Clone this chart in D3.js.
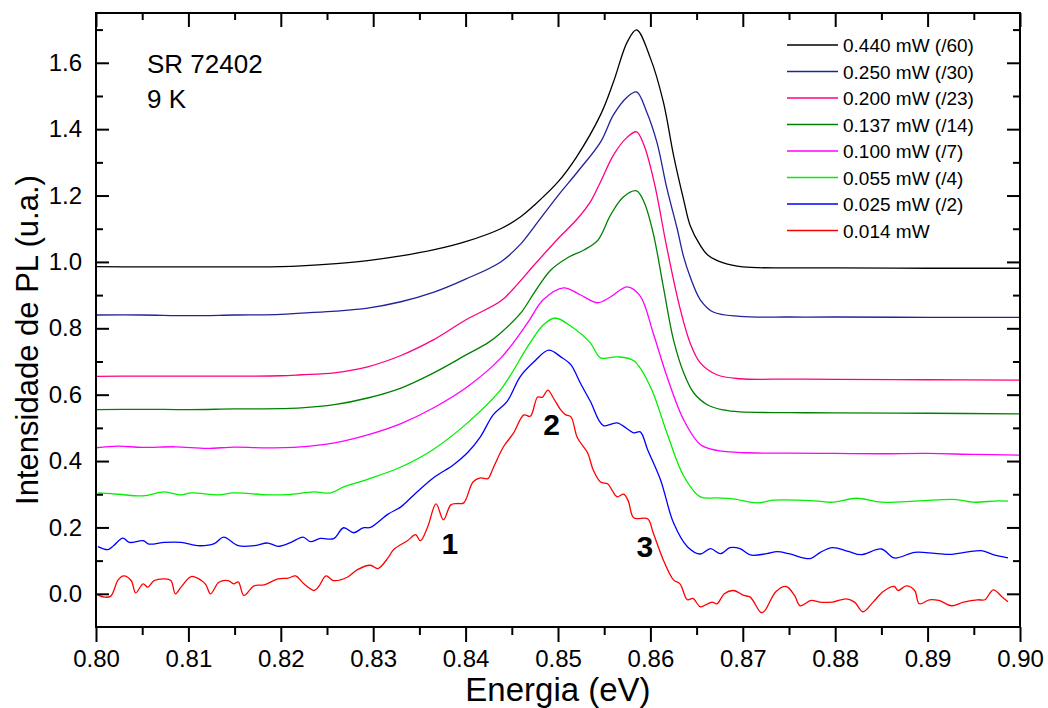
<!DOCTYPE html>
<html>
<head>
<meta charset="utf-8">
<script src="https://cdn.jsdelivr.net/npm/d3@7"></script>
<style>
  html, body { margin: 0; padding: 0; background: #fff; }
  svg { display: block; font-family: "Liberation Sans", Arial, sans-serif; }
</style>
</head>
<body>
<svg id="chart" width="1048" height="708"></svg>
<script>
// ---------- DATA ----------
const xTicks = [0.80, 0.81, 0.82, 0.83, 0.84, 0.85, 0.86, 0.87, 0.88, 0.89, 0.90];
const yTicks = [0.0, 0.2, 0.4, 0.6, 0.8, 1.0, 1.2, 1.4, 1.6];
const legendLabels = ["0.440 mW (/60)", "0.250 mW (/30)", "0.200 mW (/23)", "0.137 mW (/14)",
                      "0.100 mW (/7)", "0.055 mW (/4)", "0.025 mW (/2)", "0.014 mW"];
const peakLabels = ["1", "2", "3"];
const peakPos = [[0.8383, 0.12], [0.8493, 0.48], [0.8594, 0.11]];

const s440 = [[0.800,0.986],[0.805,0.985],[0.810,0.985],[0.815,0.985],[0.820,0.986],[0.8222,0.988],[0.826,0.995],[0.8294,1.004],[0.833,1.018],[0.8365,1.036],[0.840,1.061],[0.8438,1.100],[0.846,1.137],[0.8474,1.170],[0.850,1.241],[0.852,1.316],[0.8546,1.443],[0.856,1.542],[0.8575,1.663],[0.8585,1.699],[0.860,1.614],[0.8614,1.482],[0.8625,1.322],[0.8636,1.187],[0.8643,1.11],[0.8654,1.05],[0.8662,1.021],[0.8679,0.997],[0.870,0.985],[0.875,0.982],[0.880,0.982],[0.890,0.981],[0.900,0.981]];
const s250 = [[0.800,0.840],[0.805,0.840],[0.810,0.838],[0.815,0.840],[0.820,0.842],[0.8222,0.846],[0.826,0.852],[0.8294,0.861],[0.833,0.880],[0.8365,0.908],[0.840,0.948],[0.8438,1.000],[0.846,1.055],[0.8474,1.105],[0.850,1.200],[0.8521,1.271],[0.8546,1.361],[0.856,1.443],[0.8575,1.497],[0.8585,1.512],[0.8596,1.452],[0.8607,1.361],[0.8618,1.22],[0.8629,1.10],[0.8636,1.015],[0.8643,0.955],[0.8654,0.886],[0.8668,0.849],[0.8697,0.836],[0.875,0.834],[0.880,0.834],[0.890,0.833],[0.900,0.833]];
const s200 = [[0.800,0.655],[0.805,0.656],[0.810,0.656],[0.815,0.656],[0.820,0.657],[0.8222,0.660],[0.8258,0.666],[0.8294,0.684],[0.833,0.718],[0.8365,0.765],[0.840,0.825],[0.8438,0.882],[0.8452,0.920],[0.8474,0.990],[0.850,1.070],[0.8521,1.130],[0.8535,1.181],[0.8546,1.241],[0.856,1.322],[0.8575,1.376],[0.8585,1.392],[0.8593,1.352],[0.8604,1.241],[0.8618,1.04],[0.8632,0.861],[0.8643,0.756],[0.8654,0.696],[0.8672,0.660],[0.8697,0.648],[0.875,0.647],[0.880,0.646],[0.890,0.645],[0.900,0.644]];
const s137 = [[0.800,0.555],[0.805,0.556],[0.810,0.555],[0.815,0.557],[0.820,0.558],[0.8222,0.560],[0.8258,0.570],[0.8294,0.590],[0.833,0.620],[0.8365,0.665],[0.8402,0.722],[0.8424,0.756],[0.8438,0.786],[0.846,0.847],[0.8474,0.906],[0.8492,0.975],[0.851,1.012],[0.8528,1.036],[0.8543,1.065],[0.8557,1.142],[0.8571,1.196],[0.8585,1.214],[0.8593,1.181],[0.8603,1.087],[0.8614,0.925],[0.8625,0.765],[0.8636,0.666],[0.8647,0.605],[0.8662,0.569],[0.8679,0.554],[0.8697,0.548],[0.875,0.546],[0.880,0.545],[0.890,0.544],[0.900,0.542]];
const s100 = [[0.800,0.440],[0.8024,0.445],[0.805,0.441],[0.8086,0.443],[0.812,0.438],[0.815,0.442],[0.818,0.440],[0.8222,0.443],[0.8258,0.455],[0.8294,0.479],[0.833,0.513],[0.8365,0.560],[0.8402,0.624],[0.8438,0.71],[0.8467,0.816],[0.8484,0.886],[0.8506,0.922],[0.8524,0.901],[0.8543,0.877],[0.8557,0.895],[0.8575,0.925],[0.8589,0.897],[0.8603,0.786],[0.8618,0.654],[0.8636,0.524],[0.8654,0.450],[0.8672,0.432],[0.8705,0.425],[0.875,0.424],[0.880,0.423],[0.885,0.422],[0.890,0.423],[0.895,0.420],[0.900,0.418]];
const s055 = [[0.8002,0.304],[0.8024,0.300],[0.8051,0.295],[0.8074,0.307],[0.8092,0.298],[0.8103,0.304],[0.8133,0.298],[0.8149,0.304],[0.8186,0.298],[0.8208,0.299],[0.8236,0.307],[0.8254,0.304],[0.8268,0.322],[0.8294,0.345],[0.833,0.382],[0.8365,0.435],[0.8402,0.515],[0.8438,0.615],[0.8467,0.744],[0.8484,0.810],[0.8497,0.831],[0.8514,0.806],[0.8535,0.756],[0.8546,0.711],[0.8564,0.714],[0.8582,0.702],[0.860,0.624],[0.8618,0.484],[0.8636,0.355],[0.8654,0.292],[0.8672,0.289],[0.8689,0.286],[0.8716,0.274],[0.8733,0.282],[0.8778,0.280],[0.8797,0.276],[0.8823,0.288],[0.885,0.276],[0.8891,0.280],[0.8931,0.284],[0.8949,0.276],[0.8976,0.280],[0.8987,0.279]];
const s025 = [[0.8002,0.142],[0.8013,0.133],[0.8019,0.145],[0.8029,0.168],[0.8036,0.155],[0.8051,0.160],[0.8057,0.150],[0.8074,0.155],[0.8092,0.155],[0.8110,0.145],[0.8128,0.151],[0.8138,0.171],[0.8154,0.145],[0.8171,0.145],[0.8186,0.153],[0.8197,0.143],[0.8211,0.155],[0.8224,0.171],[0.8232,0.157],[0.8243,0.167],[0.8257,0.166],[0.8268,0.199],[0.8279,0.184],[0.8289,0.199],[0.8297,0.200],[0.8316,0.240],[0.833,0.262],[0.8344,0.298],[0.8365,0.349],[0.8387,0.389],[0.8402,0.425],[0.8416,0.473],[0.8430,0.540],[0.8445,0.580],[0.8459,0.654],[0.8474,0.699],[0.8490,0.734],[0.8503,0.714],[0.8514,0.690],[0.8524,0.636],[0.8535,0.580],[0.8549,0.507],[0.8564,0.515],[0.8582,0.485],[0.8589,0.488],[0.8597,0.434],[0.8611,0.343],[0.8625,0.214],[0.8640,0.142],[0.8654,0.120],[0.8665,0.136],[0.8676,0.121],[0.8686,0.139],[0.8697,0.136],[0.8708,0.117],[0.8726,0.121],[0.8737,0.127],[0.8751,0.120],[0.8773,0.106],[0.8784,0.125],[0.8797,0.139],[0.8814,0.128],[0.8828,0.118],[0.8850,0.135],[0.8864,0.108],[0.8886,0.125],[0.8908,0.122],[0.8926,0.119],[0.8958,0.130],[0.8971,0.118],[0.8987,0.108]];
const s014 = [[0.8002,-0.003],[0.8009,-0.010],[0.8016,-0.007],[0.8024,0.042],[0.8030,0.054],[0.8038,0.040],[0.8043,0.003],[0.8051,0.030],[0.8056,0.020],[0.8063,0.040],[0.8074,0.045],[0.8081,0.040],[0.8086,0.000],[0.8092,0.020],[0.8103,0.052],[0.8114,0.040],[0.8119,0.027],[0.8124,0.000],[0.8133,0.035],[0.8143,0.040],[0.8149,0.030],[0.8154,0.036],[0.8160,-0.005],[0.8171,0.024],[0.8182,0.027],[0.8197,0.045],[0.8208,0.047],[0.8216,0.054],[0.8225,0.030],[0.8236,0.010],[0.8241,0.022],[0.8249,0.054],[0.8257,0.040],[0.8272,0.050],[0.8283,0.073],[0.8297,0.086],[0.8305,0.076],[0.8316,0.108],[0.8322,0.133],[0.8337,0.160],[0.8346,0.178],[0.8351,0.160],[0.8359,0.202],[0.8368,0.271],[0.8376,0.223],[0.8384,0.268],[0.8391,0.272],[0.8398,0.274],[0.8408,0.337],[0.8416,0.349],[0.8424,0.347],[0.8430,0.380],[0.8441,0.443],[0.8452,0.485],[0.8463,0.539],[0.8470,0.535],[0.8478,0.593],[0.8483,0.592],[0.8489,0.614],[0.8495,0.590],[0.8503,0.554],[0.8508,0.540],[0.8514,0.533],[0.8521,0.470],[0.8532,0.425],[0.8538,0.374],[0.8546,0.337],[0.8554,0.331],[0.8559,0.310],[0.8564,0.292],[0.8571,0.300],[0.8576,0.280],[0.8582,0.229],[0.8597,0.226],[0.8603,0.184],[0.8614,0.102],[0.8625,0.042],[0.8632,0.030],[0.8640,-0.018],[0.8646,-0.014],[0.8654,-0.039],[0.8662,-0.030],[0.8667,-0.025],[0.8672,-0.030],[0.8680,0.000],[0.8690,0.010],[0.8701,-0.005],[0.8708,-0.010],[0.8720,-0.057],[0.8724,-0.050],[0.8736,0.007],[0.8747,0.022],[0.8756,-0.005],[0.8762,-0.036],[0.8774,-0.020],[0.8783,-0.025],[0.8797,-0.025],[0.8812,-0.015],[0.8821,-0.025],[0.8830,-0.054],[0.8841,-0.025],[0.8852,0.007],[0.8864,0.022],[0.8868,0.010],[0.8877,0.024],[0.8886,0.010],[0.8891,-0.030],[0.8902,-0.018],[0.8912,-0.020],[0.8926,-0.036],[0.8939,-0.025],[0.8954,-0.018],[0.8962,-0.018],[0.8971,0.012],[0.8981,-0.010],[0.8987,-0.024]];

const seriesList = [s440, s250, s200, s137, s100, s055, s025, s014];

// ---------- STYLE ----------
const colors = ["#000000", "#22229a", "#ff0080", "#008000", "#ff00ff", "#00f000", "#0000ff", "#ff0000"];
const m = { left: 96, right: 1020, top: 13, bottom: 627 };

const svg = d3.select("#chart");
const x = d3.scaleLinear().domain([0.80, 0.90]).range([m.left, m.right]);
const y = d3.scaleLinear().domain([-0.1, 1.75]).range([m.bottom, m.top]);

svg.append("defs").append("clipPath").attr("id", "clip")
  .append("rect").attr("x", m.left).attr("y", m.top)
  .attr("width", m.right - m.left).attr("height", m.bottom - m.top);

const line = d3.line().x(d => x(d[0])).y(d => y(d[1])).curve(d3.curveCatmullRom.alpha(0.5));

const gLines = svg.append("g").attr("clip-path", "url(#clip)");
seriesList.forEach((s, i) => {
  gLines.append("path").datum(s)
    .attr("d", line).attr("fill", "none")
    .attr("stroke", colors[i]).attr("stroke-width", 1.3)
    .attr("stroke-linejoin", "round");
});

// ---------- AXES ----------
const minorX = d3.range(0.805, 0.9, 0.01);
const minorY = d3.range(0.1, 1.75, 0.2);
const fmtX = d3.format(".2f"), fmtY = d3.format(".1f");

const axB = svg.append("g").attr("transform", `translate(0,${m.bottom})`)
  .call(d3.axisBottom(x).tickValues(xTicks).tickFormat(fmtX).tickSize(15).tickPadding(8));
svg.append("g").attr("transform", `translate(0,${m.bottom})`)
  .call(d3.axisBottom(x).tickValues(minorX).tickFormat("").tickSize(8));
svg.append("g").attr("transform", `translate(0,${m.top})`)
  .call(d3.axisBottom(x).tickValues(xTicks).tickFormat("").tickSize(14));
svg.append("g").attr("transform", `translate(0,${m.top})`)
  .call(d3.axisBottom(x).tickValues(minorX).tickFormat("").tickSize(7));
const axL = svg.append("g").attr("transform", `translate(${m.left},0)`)
  .call(d3.axisRight(y).tickValues(yTicks).tickFormat(fmtY).tickSize(13));
svg.append("g").attr("transform", `translate(${m.left},0)`)
  .call(d3.axisRight(y).tickValues(minorY).tickFormat("").tickSize(7));
svg.append("g").attr("transform", `translate(${m.right},0)`)
  .call(d3.axisLeft(y).tickValues(yTicks).tickFormat("").tickSize(13));
svg.append("g").attr("transform", `translate(${m.right},0)`)
  .call(d3.axisLeft(y).tickValues(minorY).tickFormat("").tickSize(7));

svg.selectAll(".domain").remove();
svg.selectAll(".tick line").attr("stroke", "#000").attr("stroke-width", 2);

axL.selectAll(".tick text").attr("x", -14).attr("text-anchor", "end")
  .attr("font-size", 24).attr("fill", "#000").attr("font-family", "Liberation Sans, Arial, sans-serif");
axB.selectAll(".tick text").attr("font-size", 24).attr("fill", "#000")
  .attr("font-family", "Liberation Sans, Arial, sans-serif");

svg.append("rect").attr("x", m.left).attr("y", m.top)
  .attr("width", m.right - m.left).attr("height", m.bottom - m.top)
  .attr("fill", "none").attr("stroke", "#000").attr("stroke-width", 2);

// ---------- TITLES ----------
svg.append("text").attr("x", (m.left + m.right) / 2).attr("y", 701)
  .attr("text-anchor", "middle").attr("font-size", 33).text("Energia (eV)");
svg.append("text").attr("transform", `translate(38,340) rotate(-90)`)
  .attr("text-anchor", "middle").attr("font-size", 31).text("Intensidade de PL (u.a.)");

svg.append("text").attr("x", 147).attr("y", 73).attr("font-size", 26).text("SR 72402");
svg.append("text").attr("x", 147).attr("y", 108).attr("font-size", 26).text("9 K");

peakLabels.forEach((t, i) => {
  svg.append("text").attr("x", x(peakPos[i][0])).attr("y", y(peakPos[i][1]))
    .attr("text-anchor", "middle").attr("font-size", 30).attr("font-weight", "bold").text(t);
});

// ---------- LEGEND ----------
const lg = svg.append("g");
legendLabels.forEach((t, i) => {
  const yy = 45 + i * 26.5;
  lg.append("line").attr("x1", 787).attr("x2", 838).attr("y1", yy).attr("y2", yy)
    .attr("stroke", colors[i]).attr("stroke-width", 1.5);
  lg.append("text").attr("x", 843).attr("y", yy + 7).attr("font-size", 19).text(t);
});
</script>
</body>
</html>
